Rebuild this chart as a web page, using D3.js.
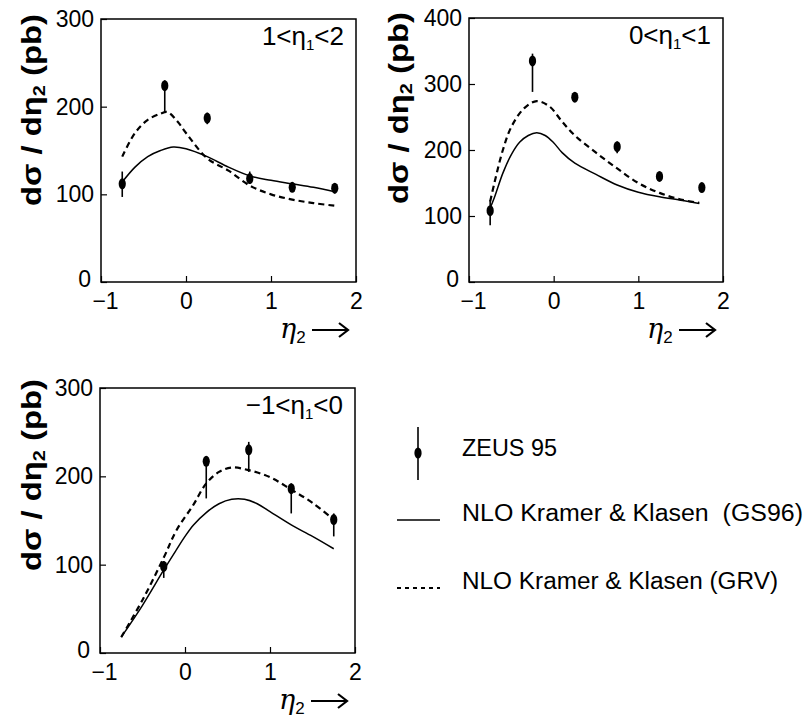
<!DOCTYPE html>
<html><head><meta charset="utf-8">
<script src="https://cdn.jsdelivr.net/npm/d3@7"></script>
<style>
body{margin:0;background:#fff;}
text{font-family:"Liberation Sans",Arial,sans-serif;fill:#000;}
</style></head>
<body><svg id="c" width="808" height="717"></svg>
<script>
// ---------- data ----------
const xTickVals = [-1, 0, 1, 2];
const yTicks1 = [0, 100, 200, 300];
const yTicks2 = [0, 100, 200, 300, 400];
const yTicks3 = [0, 100, 200, 300];
const binLabels = ["1<η", "0<η", "−1<η"];
const binUpper = ["<2", "<1", "<0"];

// ZEUS 95 points
const ptX12 = [-0.75, -0.25, 0.25, 0.75, 1.25, 1.75];
const zeus1 = [112, 224, 187, 118, 108, 107];
const zeus1Lo = [97, 193, 180, 112, 103, 101];
const zeus1Hi = [126, 230, 193, 126, 113, 112];
const zeus2 = [108, 335, 280, 205, 160, 143];
const zeus2Lo = [86, 288, 273, 195, 155, 138];
const zeus2Hi = [124, 346, 286, 213, 165, 148];
const ptX3 = [-0.25, 0.25, 0.75, 1.25, 1.75];
const zeus3 = [98, 217, 230, 186, 151];
const zeus3Lo = [85, 175, 205, 158, 132];
const zeus3Hi = [104, 222, 239, 192, 158];

// NLO GS96 (solid)
const gsX1 = [-0.75, -0.6, -0.45, -0.3, -0.15, 0, 0.25, 0.5, 0.75, 1.0, 1.25, 1.5, 1.75];
const gs1  = [114, 131, 143, 150, 154, 152, 143, 131, 121, 116, 112, 108, 103];
const gsX2 = [-0.75, -0.7, -0.6, -0.5, -0.4, -0.3, -0.2, -0.1, 0, 0.1, 0.25, 0.5, 0.75, 1.0, 1.25, 1.5, 1.72];
const gs2  = [112, 128, 165, 193, 212, 222, 226, 222, 211, 196, 180, 163, 147, 136, 129, 124, 119];
const gsX3 = [-0.75, -0.5, -0.25, -0.1, 0, 0.1, 0.25, 0.4, 0.55, 0.7, 0.85, 1.0, 1.25, 1.5, 1.75];
const gs3  = [18, 54, 94, 117, 132, 145, 159, 169, 174, 174, 169, 160, 145, 132, 118];

// NLO GRV (dashed)
const grvX1 = [-0.75, -0.6, -0.45, -0.3, -0.22, -0.1, 0, 0.25, 0.5, 0.75, 1.0, 1.25, 1.5, 1.75];
const grv1  = [143, 170, 185, 192, 194, 183, 170, 141, 127, 110, 100, 94, 90, 87];
const grvX2 = [-0.75, -0.7, -0.6, -0.5, -0.35, -0.2, -0.05, 0.1, 0.25, 0.5, 0.75, 1.0, 1.25, 1.5, 1.72];
const grv2  = [122, 150, 200, 235, 263, 274, 266, 243, 222, 196, 172, 150, 135, 125, 120];
const grvX3 = [-0.75, -0.5, -0.25, -0.1, 0.1, 0.25, 0.4, 0.55, 0.75, 1.0, 1.25, 1.5, 1.75];
const grv3  = [18, 60, 108, 139, 168, 192, 205, 210, 207, 199, 185, 170, 151];

const legendLabels = ["ZEUS 95", "NLO Kramer & Klasen  (GS96)", "NLO Kramer & Klasen (GRV)"];

// ---------- drawing ----------
const svg = d3.select("#c");

const panels = [
  {x0:101, x1:356, y0:19, y1:282, ymax:300, yt:yTicks1, bin:0,
   px:ptX12, py:zeus1, lo:zeus1Lo, hi:zeus1Hi, gx:gsX1, gy:gs1, rx:grvX1, ry:grv1, titleY:110, titleX:41},
  {x0:469, x1:723, y0:18, y1:282, ymax:400, yt:yTicks2, bin:1,
   px:ptX12, py:zeus2, lo:zeus2Lo, hi:zeus2Hi, gx:gsX2, gy:gs2, rx:grvX2, ry:grv2, titleY:108, titleX:408},
  {x0:100, x1:355, y0:388, y1:653, ymax:300, yt:yTicks3, bin:2,
   px:ptX3, py:zeus3, lo:zeus3Lo, hi:zeus3Hi, gx:gsX3, gy:gs3, rx:grvX3, ry:grv3, titleY:475, titleX:41}
];

function drawMarker(g, cx, cy, yLo, yHi) {
  g.append("line").attr("x1", cx).attr("x2", cx).attr("y1", yLo).attr("y2", yHi)
    .attr("stroke", "#000").attr("stroke-width", 1.6);
  g.append("ellipse").attr("cx", cx).attr("cy", cy).attr("rx", 3.6).attr("ry", 5.5).attr("fill", "#000");
}

panels.forEach(p => {
  const x = d3.scaleLinear().domain([-1, 2]).range([p.x0, p.x1]);
  const y = d3.scaleLinear().domain([0, p.ymax]).range([p.y1, p.y0]);
  const g = svg.append("g");

  // frame
  g.append("rect").attr("x", p.x0).attr("y", p.y0).attr("width", p.x1 - p.x0).attr("height", p.y1 - p.y0)
    .attr("fill", "none").attr("stroke", "#000").attr("stroke-width", 1.5);

  // axes (inner ticks)
  const xa = d3.axisBottom(x).tickValues(xTickVals).tickSize(-6).tickPadding(7)
    .tickFormat(d => d < 0 ? "−" + Math.abs(d) : d);
  const xg = g.append("g").attr("transform", `translate(0,${p.y1})`).call(xa);
  xg.select(".domain").remove();
  xg.selectAll("line").attr("stroke-width", 1.2);
  xg.selectAll("text").attr("font-size", 23).attr("font-family", "Liberation Sans, Arial, sans-serif")
    .attr("dy", "0.86em").attr("dx", d => d === -1 ? 4 : 0);

  const ya = d3.axisLeft(y).tickValues(p.yt).tickSize(-6).tickPadding(7);
  const yg = g.append("g").attr("transform", `translate(${p.x0},0)`).call(ya);
  yg.select(".domain").remove();
  yg.selectAll("line").attr("stroke-width", 1.2);
  yg.selectAll("text").attr("font-size", 23).attr("font-family", "Liberation Sans, Arial, sans-serif")
    .attr("dx", d => d === 0 ? -3 : 0).attr("dy", d => d === 0 ? "0.18em" : "0.32em");

  // axis title
  const t = g.append("text")
    .attr("transform", `translate(${p.titleX},${p.titleY}) rotate(-90)`)
    .attr("text-anchor", "middle").attr("font-size", 28).attr("font-weight", "bold")
    .attr("textLength", 192).attr("lengthAdjust", "spacingAndGlyphs");
  t.append("tspan").text("dσ / dη");
  t.append("tspan").text("2").attr("font-size", 17).attr("dy", 4);
  t.append("tspan").text(" (pb)").attr("dy", -4);

  // x-axis label: η2 text + drawn arrow
  const xl = g.append("text").attr("x", p.x1 - 76).attr("y", p.y1 + 56)
    .attr("text-anchor", "start").attr("font-size", 27);
  xl.append("tspan").text("η").attr("font-style", "italic").attr("font-family", "DejaVu Serif, serif");
  xl.append("tspan").text("2").attr("font-size", 17).attr("dy", 5);
  const ay = p.y1 + 48, ax0 = p.x1 - 44, ax1 = p.x1 - 8;
  g.append("path")
    .attr("d", `M${ax0},${ay}H${ax1}M${ax1 - 9},${ay - 7}L${ax1},${ay}L${ax1 - 9},${ay + 7}`)
    .attr("fill", "none").attr("stroke", "#000").attr("stroke-width", 2.2).attr("stroke-linejoin", "miter");

  // bin annotation
  const an = g.append("text").attr("x", p.x1 - 12).attr("y", p.y0 + 26)
    .attr("text-anchor", "end").attr("font-size", 26);
  an.append("tspan").text(binLabels[p.bin]);
  an.append("tspan").text("1").attr("font-size", 15).attr("dy", 5);
  an.append("tspan").text(binUpper[p.bin]).attr("dy", -5);

  // curves
  const line = d3.line().x(d => x(d[0])).y(d => y(d[1])).curve(d3.curveCatmullRom.alpha(0.5));
  g.append("path").attr("d", line(p.gx.map((v, i) => [v, p.gy[i]])))
    .attr("fill", "none").attr("stroke", "#000").attr("stroke-width", 1.5);
  g.append("path").attr("d", line(p.rx.map((v, i) => [v, p.ry[i]])))
    .attr("fill", "none").attr("stroke", "#000").attr("stroke-width", 2.2).attr("stroke-dasharray", "6,4");

  // data points
  p.px.forEach((v, i) => drawMarker(g, x(v), y(p.py[i]), y(p.lo[i]), y(p.hi[i])));
});

// legend
const lg = svg.append("g");
drawMarker(lg, 418, 453, 480, 427);
lg.append("line").attr("x1", 397).attr("x2", 440).attr("y1", 520).attr("y2", 520)
  .attr("stroke", "#000").attr("stroke-width", 1.5);
lg.append("line").attr("x1", 397).attr("x2", 440).attr("y1", 588).attr("y2", 588)
  .attr("stroke", "#000").attr("stroke-width", 2).attr("stroke-dasharray", "4,4");
const lgY = [456, 521, 589];
const lgLen = [95, 341, 316];
legendLabels.forEach((s, i) => {
  lg.append("text").attr("x", 462).attr("y", lgY[i]).attr("font-size", 23)
    .attr("textLength", lgLen[i]).attr("lengthAdjust", "spacingAndGlyphs")
    .attr("xml:space", "preserve").style("white-space", "pre").text(s);
});
</script></body></html>
